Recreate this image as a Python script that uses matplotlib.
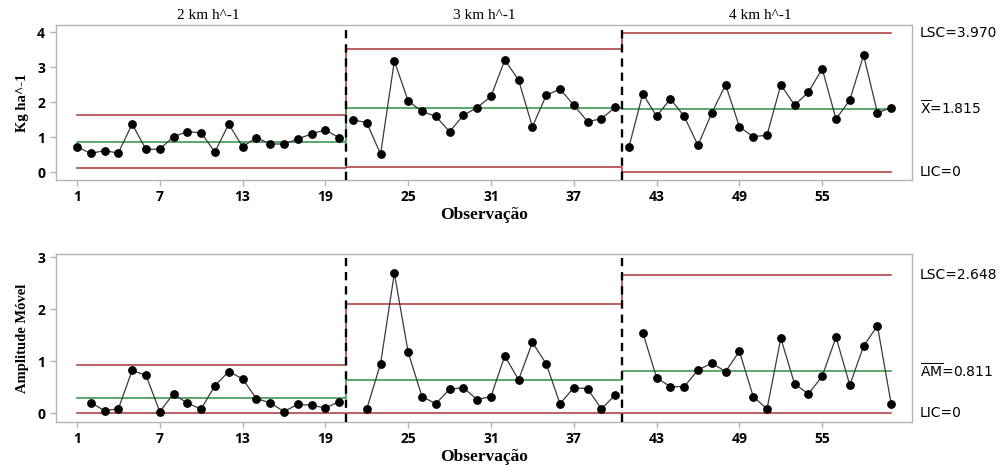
import matplotlib
matplotlib.use("Agg")
import matplotlib.pyplot as plt
import matplotlib.transforms as mtransforms
import numpy as np

# ---------------- data ----------------
stage_names = ["2 km h^-1", "3 km h^-1", "4 km h^-1"]
obs = list(range(1, 61))

x_values = [0.73, 0.54, 0.62, 0.55, 1.38, 0.66, 0.66, 1.02, 1.16, 1.13,
            0.58, 1.38, 0.73, 0.99, 0.81, 0.81, 0.95, 1.10, 1.21, 0.99,
            1.50, 1.42, 0.52, 3.18, 2.04, 1.74, 1.60, 1.16, 1.63, 1.85,
            2.17, 3.21, 2.64, 1.30, 2.20, 2.38, 1.92, 1.45, 1.53, 1.86,
            0.73, 2.25, 1.60, 2.10, 1.60, 0.77, 1.70, 2.50, 1.30, 1.02,
            1.06, 2.50, 1.92, 2.29, 2.96, 1.52, 2.07, 3.35, 1.70, 1.85]

# moving ranges (first observation of each stage has none)
mr_values = [None, 0.20, 0.05, 0.08, 0.82, 0.73, 0.03, 0.37, 0.19, 0.08,
             0.53, 0.80, 0.66, 0.28, 0.20, 0.03, 0.17, 0.15, 0.10, 0.22,
             None, 0.08, 0.95, 2.69, 1.17, 0.32, 0.18, 0.46, 0.49, 0.26,
             0.32, 1.10, 0.64, 1.36, 0.95, 0.18, 0.49, 0.47, 0.08, 0.35,
             None, 1.55, 0.68, 0.51, 0.51, 0.83, 0.96, 0.80, 1.19, 0.32,
             0.08, 1.44, 0.56, 0.37, 0.71, 1.46, 0.54, 1.29, 1.68, 0.17]

x_ucl = [1.63, 3.53, 3.970]
x_cl = [0.867, 1.85, 1.815]
x_lcl = [0.11, 0.14, 0.0]

mr_ucl = [0.93, 2.09, 2.648]
mr_cl = [0.30, 0.635, 0.811]
mr_lcl = [0.0, 0.0, 0.0]

x_ticks = [1, 7, 13, 19, 25, 31, 37, 43, 49, 55]
x_yticks = [0, 1, 2, 3, 4]
mr_yticks = [0, 1, 2, 3]

stage_bounds = [(1, 20), (21, 40), (41, 60)]

# ---------------- styling ----------------
RED = "#a83434"
GREEN = "#2e9140"
SPINE = "#b4b4b4"
SERIF = ["Liberation Serif", "DejaVu Serif"]
SANS = ["DejaVu Sans"]

fig = plt.figure(figsize=(10.04, 4.65), dpi=100)
ax1 = fig.add_axes([0.0553, 0.6129, 0.853, 0.3333])
ax2 = fig.add_axes([0.0553, 0.0925, 0.853, 0.3613])


def step_line(values, bounds):
    xs, ys = [], []
    for i, (a, b) in enumerate(bounds):
        start = 1 if i == 0 else a - 0.5
        end = b + 0.5 if i < len(bounds) - 1 else b
        xs += [start, end]
        ys += [values[i], values[i]]
    return xs, ys


def draw(ax, vals, ucl, cl, lcl, ylim, yticks, ylabel, labels):
    for (a, b) in stage_bounds:
        xs = [o for o in obs[a - 1:b] if vals[o - 1] is not None]
        ys = [vals[o - 1] for o in xs]
        ax.plot(xs, ys, color="#3a3a3a", lw=0.9, zorder=3)
        ax.plot(xs, ys, "o", color="black", ms=5.3, zorder=4)
    for lim, col in ((ucl, RED), (cl, GREEN), (lcl, RED)):
        xs, ys = step_line(lim, stage_bounds)
        ax.plot(xs, ys, color=col, lw=1.1, zorder=2)
    for xv in (20.5, 40.5):
        ax.axvline(xv, color="black", lw=1.7, ls=(0, (3.5, 2.5)), zorder=5)
    ax.set_xlim(-0.55, 61.5)
    ax.set_ylim(*ylim)
    ax.set_xticks(x_ticks)
    ax.set_yticks(yticks)
    for s in ax.spines.values():
        s.set_color(SPINE)
        s.set_linewidth(1.0)
    ax.tick_params(axis="both", colors=SPINE, length=4, width=1.0,
                   labelcolor="black", labelsize=10)
    for t in ax.get_xticklabels() + ax.get_yticklabels():
        t.set_fontfamily(["Open Sans", "DejaVu Sans"])
        t.set_fontweight("bold")
    ax.set_ylabel(ylabel, fontfamily=SERIF, fontweight="bold", fontsize=10.5,
                  labelpad=6)
    ax.set_xlabel("Observação", fontfamily=SERIF, fontweight="bold",
                  fontsize=12.5, labelpad=2)
    trans = mtransforms.blended_transform_factory(ax.transAxes, ax.transData)
    for txt, yv in labels:
        ax.text(1.0093, yv, txt, transform=trans, ha="left", va="center",
                fontsize=10, fontfamily=SANS, clip_on=False)


draw(ax1, x_values, x_ucl, x_cl, x_lcl, (-0.22, 4.21), x_yticks, "Kg ha^-1",
     [("LSC=3.970", x_ucl[2]), (r"$\overline{\mathrm{X}}$=1.815", x_cl[2]),
      ("LIC=0", 0.0)])
draw(ax2, mr_values, mr_ucl, mr_cl, mr_lcl, (-0.17, 3.06), mr_yticks,
     "Amplitude Móvel",
     [("LSC=2.648", mr_ucl[2]), (r"$\overline{\mathrm{AM}}$=0.811", mr_cl[2]),
      ("LIC=0", 0.0)])

trans_top = mtransforms.blended_transform_factory(ax1.transData, ax1.transAxes)
for name, (a, b) in zip(stage_names, stage_bounds):
    ax1.text((a + b) / 2, 1.02, name, transform=trans_top, ha="center",
             va="bottom", fontsize=11, fontfamily=SERIF)

fig.savefig("out.png", dpi=100)
